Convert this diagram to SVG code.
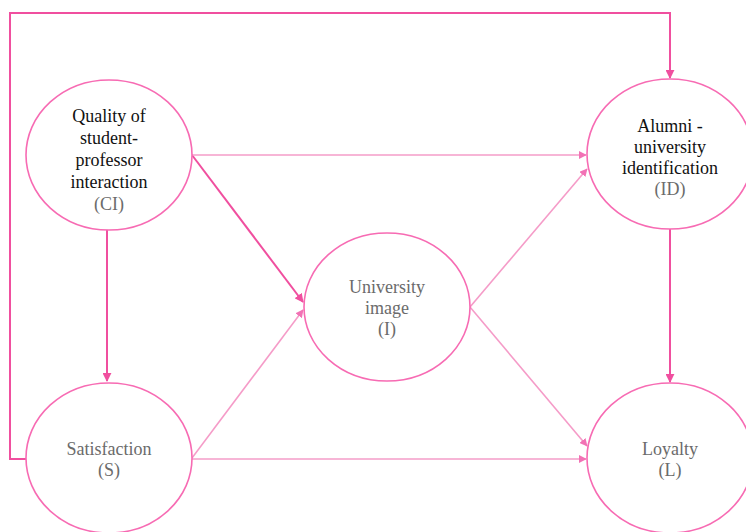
<svg xmlns="http://www.w3.org/2000/svg" width="746" height="532" viewBox="0 0 746 532">
<defs>
<style>
.node{fill:#fff;stroke:#f76bb3;stroke-width:1.6}
.dark{fill:#111}
.gray{fill:#6b6b6b}
.strong{fill:none;stroke:#f04f9f;stroke-width:2}
.light{fill:none;stroke:#f59cc8;stroke-width:1.6}
</style>
<marker id="ah" viewBox="0 0 10 10" refX="9" refY="5" markerWidth="4.5" markerHeight="4.5" orient="auto" markerUnits="strokeWidth">
<path d="M0,0L10,5L0,10z" fill="#f04f9f"/>
</marker>
<marker id="ahl" viewBox="0 0 10 10" refX="9" refY="5" markerWidth="5" markerHeight="5" orient="auto" markerUnits="strokeWidth">
<path d="M0,0L10,5L0,10z" fill="#f272b5"/>
</marker>
</defs>
<g id="connectors">
<path class="strong" d="M26,459H10V13H670V78" marker-end="url(#ah)"/>
<path class="strong" d="M107,230V381" marker-end="url(#ah)"/>
<path class="strong" d="M670,229V382" marker-end="url(#ah)"/>
<path class="strong" d="M192,155L303,302" marker-end="url(#ah)"/>
<path class="light" d="M192,155H586" marker-end="url(#ahl)"/>
<path class="light" d="M192,458L303,310" marker-end="url(#ahl)"/>
<path class="light" d="M192,459H586" marker-end="url(#ahl)"/>
<path class="light" d="M470,307L587,169" marker-end="url(#ahl)"/>
<path class="light" d="M470,307L587,446" marker-end="url(#ahl)"/>
</g>
<g font-family="Liberation Serif, Times New Roman, serif" font-size="18" text-anchor="middle">
<g id="CI">
<ellipse class="node" cx="109" cy="155" rx="83" ry="75"/>
<text class="dark" x="109" y="122">Quality of</text>
<text class="dark" x="109" y="144">student-</text>
<text class="dark" x="109" y="166">professor</text>
<text class="dark" x="109" y="188">interaction</text>
<text class="gray" x="109" y="210">(CI)</text>
</g>
<g id="ID">
<ellipse class="node" cx="670" cy="154" rx="83" ry="75"/>
<text class="dark" x="670" y="132">Alumni -</text>
<text class="dark" x="670" y="153">university</text>
<text class="dark" x="670" y="174">identification</text>
<text class="gray" x="670" y="195">(ID)</text>
</g>
<g id="I">
<ellipse class="node" cx="387" cy="307" rx="83" ry="74"/>
<text class="gray" x="387" y="293">University</text>
<text class="gray" x="387" y="314">image</text>
<text class="gray" x="387" y="335">(I)</text>
</g>
<g id="S">
<ellipse class="node" cx="109" cy="458" rx="83" ry="75"/>
<text class="gray" x="109" y="455">Satisfaction</text>
<text class="gray" x="109" y="476">(S)</text>
</g>
<g id="L">
<ellipse class="node" cx="670" cy="458" rx="83" ry="75"/>
<text class="gray" x="670" y="455">Loyalty</text>
<text class="gray" x="670" y="476">(L)</text>
</g>
</g>
</svg>
